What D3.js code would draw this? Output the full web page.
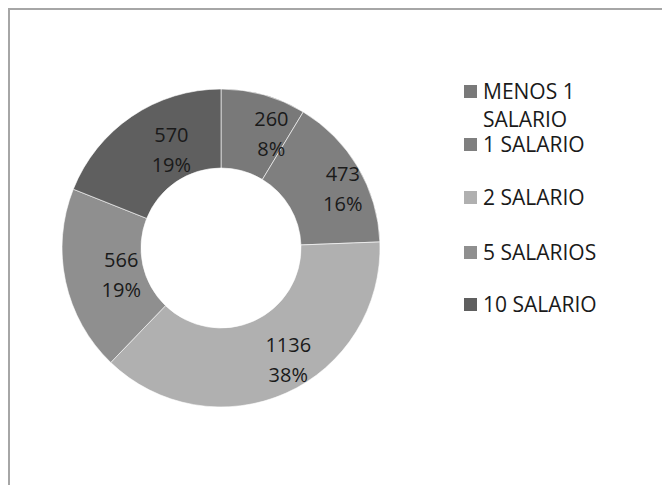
<!DOCTYPE html>
<html>
<head>
<meta charset="utf-8">
<script src="https://cdn.jsdelivr.net/npm/d3@7/dist/d3.min.js"></script>
<style>
  body { margin: 0; background: #fff; }
  svg text { font-family: "Open Sans", sans-serif; fill: #1a1a1a; }
</style>
</head>
<body>
<div id="chartDiv"></div>
<script>
// data
const categories = ["MENOS 1 SALARIO", "1 SALARIO", "2 SALARIO", "5 SALARIOS", "10 SALARIO"];
const values = [260, 473, 1136, 566, 570];
const pctLabels = ["8%", "16%", "38%", "19%", "19%"];
const colors = ["#797979", "#7f7f7f", "#b0b0b0", "#8f8f8f", "#5f5f5f"];
const legendLines = [["MENOS 1", "SALARIO"], ["1 SALARIO"], ["2 SALARIO"], ["5 SALARIOS"], ["10 SALARIO"]];

const width = 662, height = 485;
const cx = 221, cy = 248, outerR = 159, innerR = 80;

const svg = d3.select("#chartDiv")
    .append("svg")
    .attr("width", width)
    .attr("height", height);

// chart area border (only top/left visible in the crop)
svg.append("path")
    .attr("d", "M9,485 L9,9 L662,9")
    .attr("fill", "none")
    .attr("stroke", "#a6a6a6")
    .attr("stroke-width", 2);

const pie = d3.pie().sort(null).value(d => d);
const arcs = pie(values);
const arc = d3.arc().innerRadius(innerR).outerRadius(outerR);

const g = svg.append("g").attr("transform", "translate(" + cx + "," + cy + ")");

g.selectAll("path.slice")
    .data(arcs)
    .enter()
    .append("path")
    .attr("class", "slice")
    .attr("d", arc)
    .attr("fill", (d, i) => colors[i])
    .attr("stroke", "#ffffff")
    .attr("stroke-width", 0.6);

// data labels - excel puts them a bit right of the centroid
const labelArc = d3.arc().innerRadius(innerR + 1).outerRadius(outerR + 1);
const lbl = g.selectAll("text.lbl")
    .data(arcs)
    .enter()
    .append("text")
    .attr("class", "lbl")
    .attr("text-anchor", "middle")
    .attr("font-size", 20)
    .attr("transform", d => {
        const c = labelArc.centroid(d);
        return "translate(" + (c[0] + 18) + "," + (c[1] + 2) + ")";
    });
lbl.append("tspan").attr("x", 0).attr("y", -8).text(d => d.data);
lbl.append("tspan").attr("x", 0).attr("y", 22).text((d, i) => pctLabels[i]);

// legend
const legendY = [92, 145, 198, 253, 305];
const legend = svg.selectAll("g.leg")
    .data(categories)
    .enter()
    .append("g")
    .attr("class", "leg")
    .attr("transform", (d, i) => "translate(464," + legendY[i] + ")");

legend.append("rect")
    .attr("x", 0)
    .attr("y", -7)
    .attr("width", 13)
    .attr("height", 13)
    .attr("fill", (d, i) => colors[i]);

legend.append("text")
    .attr("font-size", 21)
    .each(function(d, i) {
        d3.select(this).selectAll("tspan")
            .data(legendLines[i])
            .enter()
            .append("tspan")
            .attr("x", 19)
            .attr("y", (t, j) => 7 + j * 28)
            .text(t => t);
    });
</script>
</body>
</html>
